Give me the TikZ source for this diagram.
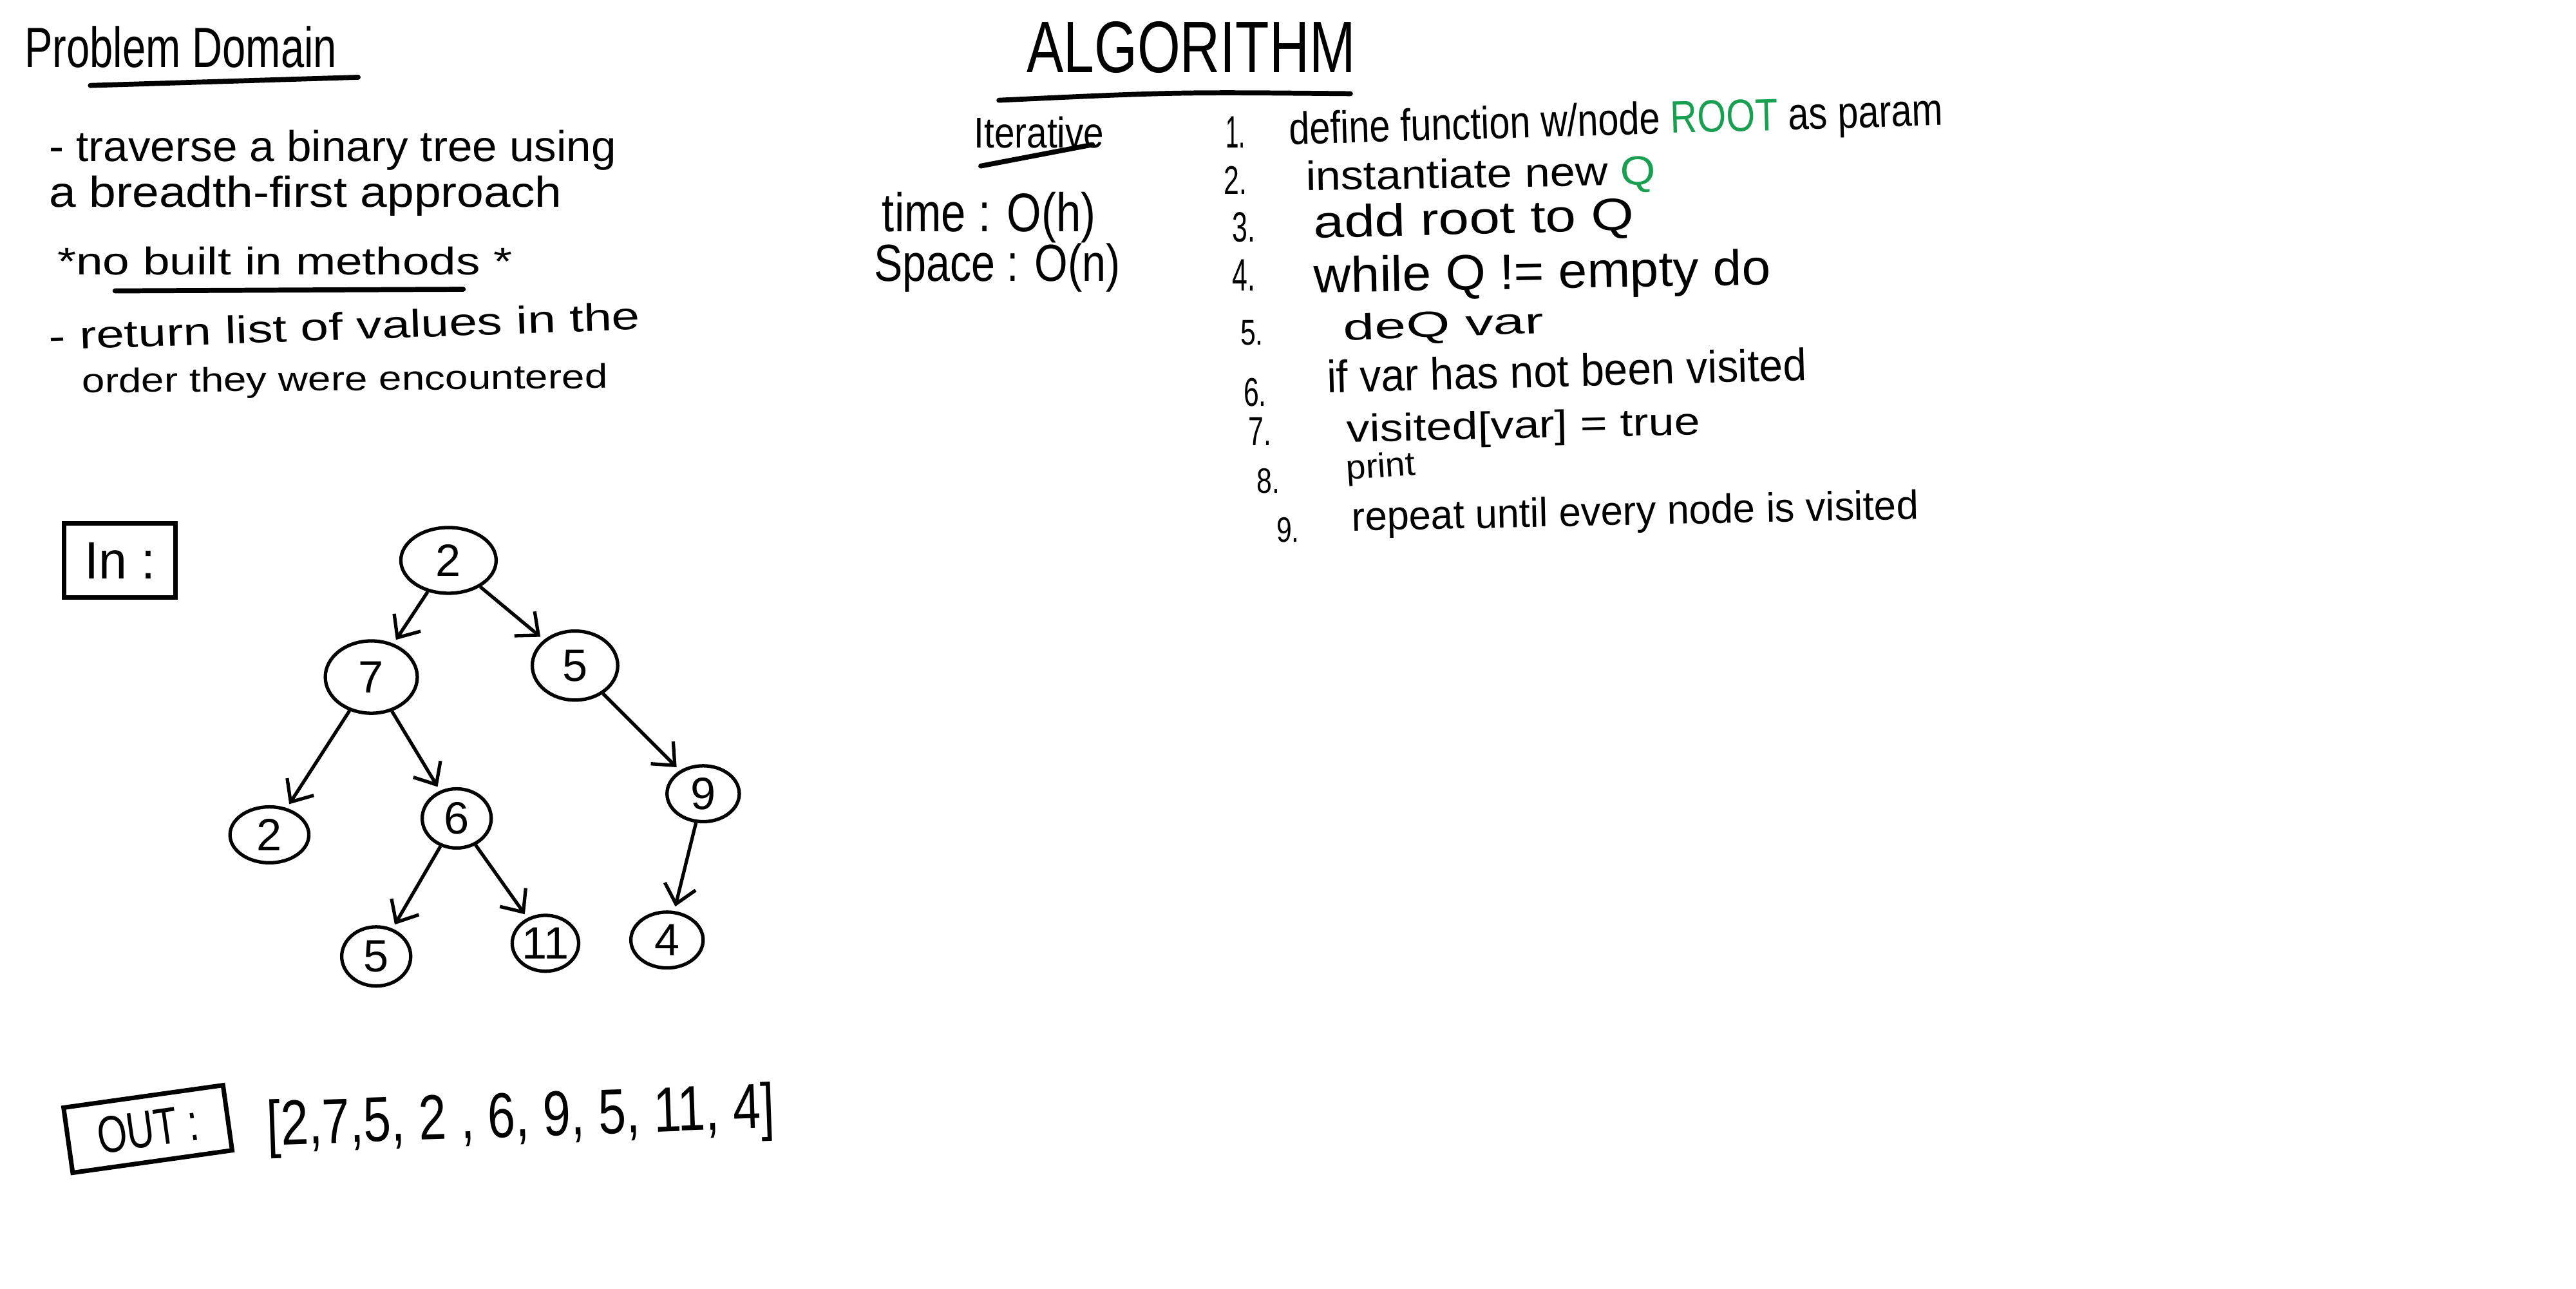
\documentclass[tikz,border=0pt]{standalone}
\usepackage{fontspec}
\setmainfont{Liberation Sans}
\usetikzlibrary{arrows.meta,shapes.geometric}
\definecolor{markerGreen}{RGB}{24,160,80}
\newlength{\pxu}
\setlength{\pxu}{0.012755cm}
\newcommand{\Scrawl}[3]{\resizebox{#1\pxu}{#2\pxu}{#3}}

\begin{document}
\begin{tikzpicture}[x=0.012755cm,y=-0.012755cm,
  scrawl/.style={anchor=base west,inner sep=0pt,outer sep=0pt},
  penLine/.style={line width=1.1pt,line cap=round},
  treeNode/.style 2 args={ellipse,draw,line width=0.75pt,minimum width=#1\pxu,minimum height=#2\pxu,inner sep=0pt,font=\fontsize{10}{12}\selectfont},
  treeEdge/.style={-{Straight Barb[length=4pt,width=7pt]},line width=0.75pt,shorten >=1pt},
  labelBox/.style={draw,line width=1pt,inner sep=0pt}]
\useasboundingbox (0,0) rectangle (1568,784);

\node[scrawl] (domainTitle) at (15,41) {\Scrawl{190}{25}{Problem Domain}};
\draw[penLine] (domainTitle.base west) ++(40,11) -- ++(163,-5);
\node[scrawl] (goalA) at (30,98) {\Scrawl{345}{19}{- traverse a binary tree using}};
\node[scrawl] (goalB) at (30,126) {\Scrawl{312}{19}{a breadth-first approach}};
\node[scrawl] (goalC) at (35,167) {\Scrawl{277}{17}{*no built in methods *}};
\draw[penLine] (goalC.base west) ++(35,10) -- ++(212,-1);
\node[scrawl,rotate=2] (goalD) at (30,213) {\Scrawl{360}{17}{- return list of values in the}};
\node[scrawl,rotate=0.5] (goalE) at (50,239) {\Scrawl{320}{15}{order they were encountered}};

\node[scrawl] (algoTitle) at (625,44) {\Scrawl{200}{31}{ALGORITHM}};
\draw[penLine] (algoTitle.base west) ++(-17,17) .. controls (715,56) .. ++(214,-4);
\node[scrawl] (iterTitle) at (593,90) {\Scrawl{79}{19}{Iterative}};
\draw[penLine] (iterTitle.base west) ++(4,11) -- ++(68,-13);
\node[scrawl] (timeCost) at (537,141) {\Scrawl{130}{24}{time : O(h)}};
\node[scrawl] (spaceCost) at (532,171) {\Scrawl{150}{23}{Space : O(n)}};

\node[scrawl] (numA) at (746,90) {\Scrawl{12}{19}{1.}};
\node[scrawl] (numB) at (745,118) {\Scrawl{14}{17}{2.}};
\node[scrawl] (numC) at (750,147) {\Scrawl{14}{18}{3.}};
\node[scrawl] (numD) at (750,177) {\Scrawl{14}{19}{4.}};
\node[scrawl] (numE) at (755,210) {\Scrawl{14}{15}{5.}};
\node[scrawl] (numF) at (757,247) {\Scrawl{14}{17}{6.}};
\node[scrawl] (numG) at (760,271) {\Scrawl{14}{17}{7.}};
\node[scrawl] (numH) at (765,300) {\Scrawl{14}{15}{8.}};
\node[scrawl] (numI) at (777,330) {\Scrawl{14}{15}{9.}};

\node[scrawl,rotate=1.7] (stepA) at (785,88) {\Scrawl{398}{20}{define function w/node \textcolor{markerGreen}{ROOT} as param}};
\node[scrawl,rotate=1] (stepB) at (795,116) {\Scrawl{213}{18}{instantiate new \textcolor{markerGreen}{Q}}};
\node[scrawl,rotate=1.5] (stepC) at (800,145) {\Scrawl{195}{20}{add root to Q}};
\node[scrawl,rotate=1] (stepD) at (800,178) {\Scrawl{278}{22}{while Q != empty do}};
\node[scrawl,rotate=2] (stepE) at (818,207) {\Scrawl{122}{16}{deQ var}};
\node[scrawl,rotate=1.5] (stepF) at (808,239) {\Scrawl{292}{20}{if var has not been visited}};
\node[scrawl,rotate=1.2] (stepG) at (820,269) {\Scrawl{215}{17}{visited[var] = true}};
\node[scrawl,rotate=4] (stepH) at (820,292) {\Scrawl{42}{15}{print}};
\node[scrawl,rotate=1.2] (stepI) at (823,323) {\Scrawl{345}{18}{repeat until every node is visited}};

\node[labelBox,minimum width=68\pxu,minimum height=45\pxu] (inBox) at (73,341) {\Scrawl{43}{22}{In :}};

\node[treeNode={58}{40}] (root) at (273,341) {2};
\node[treeNode={56}{44}] (seven) at (226,412) {7};
\node[treeNode={52}{42}] (five) at (350,405) {5};
\node[treeNode={48}{34}] (twoLeaf) at (164,508) {2};
\node[treeNode={42}{36}] (six) at (278,498) {6};
\node[treeNode={44}{34}] (nine) at (428,483) {9};
\node[treeNode={42}{36}] (fiveLeaf) at (229,582) {5};
\node[treeNode={34}{34}] (eleven) at (332,574) {11};
\node[treeNode={44}{34}] (four) at (406,572) {4};
\draw[treeEdge] (root) -- (seven);
\draw[treeEdge] (root) -- (five);
\draw[treeEdge] (seven) -- (twoLeaf);
\draw[treeEdge] (seven) -- (six);
\draw[treeEdge] (five) -- (nine);
\draw[treeEdge] (six) -- (fiveLeaf);
\draw[treeEdge] (six) -- (eleven);
\draw[treeEdge] (nine) -- (four);

\node[labelBox,rotate=8,minimum width=98\pxu,minimum height=40\pxu] (outBox) at (90,687) {\Scrawl{62}{22}{OUT :}};
\node[scrawl,rotate=2] (outList) at (163,697) {\Scrawl{309}{28}{[2,7,5, 2 , 6, 9, 5, 11, 4]}};
\end{tikzpicture}
\end{document}
